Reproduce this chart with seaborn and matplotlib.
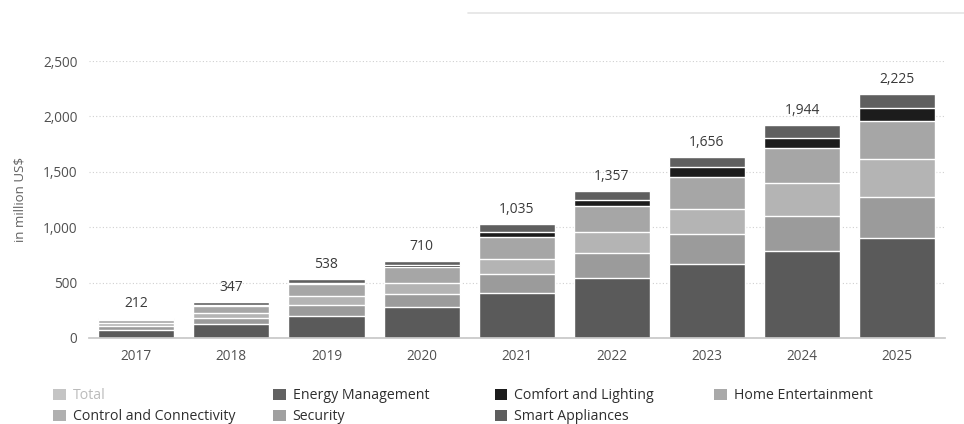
import numpy as np
import pandas as pd
import matplotlib.pyplot as plt
import seaborn as sns
from matplotlib.patches import Patch
from matplotlib.lines import Line2D

# Values (in million US$), bottom segment first
years = ['2017', '2018', '2019', '2020', '2021', '2022', '2023', '2024', '2025']
smart_appliances = [75, 130, 201, 280, 409, 539, 665, 782, 900]
security = [30, 52, 94, 120, 166, 229, 271, 319, 376]
control_connectivity = [27, 40, 84, 99, 141, 192, 232, 301, 340]
home_entertainment = [30, 66, 110, 140, 192, 235, 283, 310, 343]
comfort_lighting = [5, 8, 10, 17, 46, 52, 91, 92, 117]
energy_management = [16, 26, 30, 42, 72, 84, 94, 116, 127]
totals = [212, 347, 538, 710, 1035, 1357, 1656, 1944, 2225]

segments = [
    ('Smart Appliances', smart_appliances, '#5a5a5a'),
    ('Security', security, '#9b9b9b'),
    ('Control and Connectivity', control_connectivity, '#b4b4b4'),
    ('Home Entertainment', home_entertainment, '#a6a6a6'),
    ('Comfort and Lighting', comfort_lighting, '#1c1c1c'),
    ('Energy Management', energy_management, '#5f5f5f'),
]

sns.set_theme(style='white')
plt.rcParams['font.family'] = ['Open Sans', 'DejaVu Sans']

fig = plt.figure(figsize=(9.64, 4.24), dpi=100)
ax = fig.add_axes([0.092, 0.203, 0.888, 0.653])

df = pd.DataFrame({'year': years})
cum = np.zeros(len(years))
layers = []
for name, vals, col in segments:
    cum = cum + np.array(vals)
    layers.append((name, cum.copy(), col))

# draw the cumulative heights from the top layer down so they stack
for name, heights, col in reversed(layers):
    df['h'] = heights
    sns.barplot(data=df, x='year', y='h', color=col, width=0.8,
                edgecolor='white', linewidth=1.0, saturation=1, ax=ax)

for i, t in enumerate(totals):
    ax.annotate(f'{t:,}', (i, layers[-1][1][i]), xytext=(0, 5),
                textcoords='offset points', ha='center', va='bottom',
                fontsize=10, color='#3a3a3a')

ax.set_xlim(-0.5, 8.5)
ax.set_ylim(0, 2500)
ax.set_yticks([0, 500, 1000, 1500, 2000, 2500])
ax.set_yticklabels(['0', '500', '1,000', '1,500', '2,000', '2,500'])
ax.yaxis.grid(True, linestyle=(0, (1, 2)), color='#d0d0d0', linewidth=0.8)
ax.set_axisbelow(True)
for s in ['top', 'right', 'left']:
    ax.spines[s].set_visible(False)
ax.spines['bottom'].set_color('#c8c8c8')
ax.tick_params(axis='both', length=0, labelsize=9.8, colors='#505050', pad=8)
ax.set_xlabel('')
ax.set_ylabel('in million US$', fontsize=9.5, color='#606060', labelpad=12)

# legend, laid out in four columns like the reference
leg_cols = {
    'Total': '#c4c4c4',
    'Energy Management': '#626262',
    'Comfort and Lighting': '#1c1c1c',
    'Home Entertainment': '#a9a9a9',
    'Control and Connectivity': '#b0b0b0',
    'Security': '#a0a0a0',
    'Smart Appliances': '#5e5e5e',
}
columns = [(['Total', 'Control and Connectivity'], 0.055),
           (['Energy Management', 'Security'], 0.283),
           (['Comfort and Lighting', 'Smart Appliances'], 0.513),
           (['Home Entertainment'], 0.741)]
for names, x0 in columns:
    handles = [Patch(facecolor=leg_cols[n], edgecolor='none') for n in names]
    leg = fig.legend(handles, names, loc='upper left', bbox_to_anchor=(x0, 0.084),
                     frameon=False, fontsize=10.2, handlelength=0.9, handleheight=0.9,
                     handletextpad=0.5, labelspacing=0.42, borderpad=0, borderaxespad=0)
    for txt in leg.get_texts():
        txt.set_color('#bbbbbb' if txt.get_text() == 'Total' else '#2e2e2e')

fig.add_artist(Line2D([468 / 964, 1.0], [1 - 12.7 / 424] * 2, transform=fig.transFigure,
                      color='#e4e4e4', linewidth=1.2))

fig.savefig('out.png', dpi=100)
